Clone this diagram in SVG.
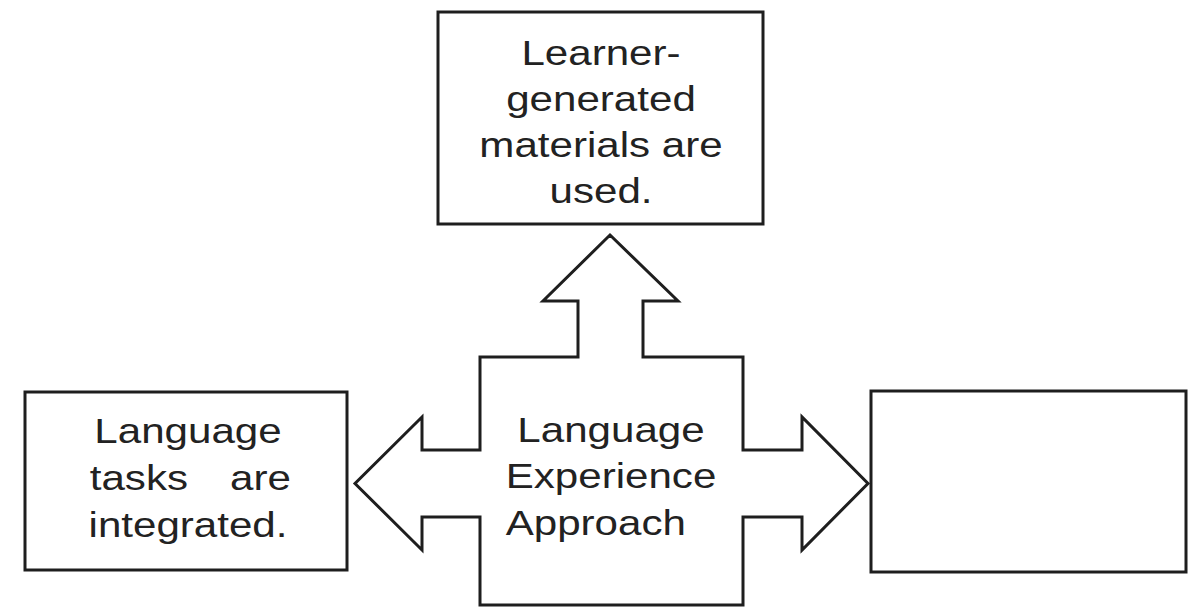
<svg xmlns="http://www.w3.org/2000/svg" width="1188" height="608" viewBox="0 0 1188 608">
  <style>
    .box { fill: #ffffff; stroke: #1e1e1e; stroke-width: 3; }
    .arrow { fill: #ffffff; stroke: #1e1e1e; stroke-width: 3; stroke-linejoin: miter; }
    .lbl { font-family: "Liberation Sans", Arial, sans-serif; font-size: 36px; fill: #222222; text-anchor: middle; }
    .lbl-start { font-family: "Liberation Sans", Arial, sans-serif; font-size: 36px; fill: #222222; text-anchor: start; }
  </style>
  <rect width="1188" height="608" fill="#ffffff"/>

  <!-- four-way block arrow around the central concept -->
  <g id="connectors">
    <path class="arrow" d="M610,235 L678,301 L643,301 L643,357 L743,357 L743,450 L802,450 L802,417 L868,483.5 L802,550 L802,517 L743,517 L743,605 L480,605 L480,517 L422,517 L422,550 L355,483.5 L422,417 L422,450 L480,450 L480,357 L578,357 L578,301 L543,301 Z"/>
  </g>

  <g id="hub">
    <g transform="translate(611 0) scale(1.17 1)">
      <text class="lbl" x="0" y="442">Language</text>
      <text class="lbl" x="0" y="488">Experience</text>
      <text class="lbl" x="-13" y="535">Approach</text>
    </g>
  </g>

  <g id="node-top">
    <rect class="box" x="438" y="12" width="325" height="212"/>
    <g transform="translate(601 0) scale(1.17 1)">
      <text class="lbl" x="0" y="65">Learner-</text>
      <text class="lbl" x="0" y="111">generated</text>
      <text class="lbl" x="0" y="157">materials are</text>
      <text class="lbl" x="0" y="203">used.</text>
    </g>
  </g>

  <g id="node-left">
    <rect class="box" x="25" y="392" width="322" height="178"/>
    <g transform="translate(188 0) scale(1.17 1)">
      <text class="lbl" x="0" y="443">Language</text>
      <text class="lbl-start" y="490"><tspan x="-84">tasks</tspan><tspan x="36">are</tspan></text>
      <text class="lbl" x="0" y="537">integrated.</text>
    </g>
  </g>

  <g id="node-right">
    <rect class="box" x="871" y="391" width="315" height="181"/>
  </g>
</svg>
